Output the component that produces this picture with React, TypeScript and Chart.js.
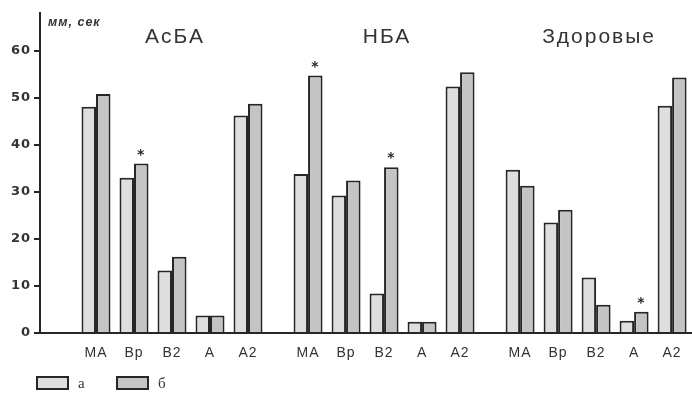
import { useEffect, useRef } from 'react';
import { Chart, registerables } from 'chart.js';

Chart.register(...registerables);

// ---- data ----
const groups = ['АсБА', 'НБА', 'Здоровые'];
const categories = ['МА', 'Вр', 'В2', 'А', 'А2'];
const seriesNames = ['а', 'б'];
const valuesA = [
  [48.1, 33.0, 13.3, 3.7, 46.2],
  [33.8, 29.2, 8.4, 2.4, 52.4],
  [34.7, 23.5, 11.8, 2.6, 48.3],
];
const valuesB = [
  [50.8, 36.0, 16.2, 3.7, 48.7],
  [54.7, 32.4, 35.2, 2.4, 55.4],
  [31.3, 26.2, 6.0, 4.5, 54.3],
];
const starsB = [
  [false, true, false, false, false],
  [true, false, true, false, false],
  [false, false, false, true, false],
];
const yTicks = [0, 10, 20, 30, 40, 50, 60];
const yUnit = 'мм, сек';

// ---- layout constants ----
const GROUP_STEP = 5.58;
const X_MIN = -1.474;
const X_MAX = 15.684;
const Y_MAX = 68;
const INK = '#262626';
const TEXT = '#333333';
const fills = ['#dedede', '#c4c4c4'];

const xPos: number[] = [];
const xLabels: string[] = [];
groups.forEach((_, g) => {
  categories.forEach((c, i) => {
    xPos.push(g * GROUP_STEP + i);
    xLabels.push(c);
  });
});

const flatA = valuesA.flat();
const flatB = valuesB.flat();
const flatStars = starsB.flat();

const decorPlugin = {
  id: 'decor',
  beforeDraw(chart: any) {
    const ctx = chart.ctx;
    ctx.save();
    ctx.fillStyle = '#ffffff';
    ctx.fillRect(0, 0, chart.width, chart.height);
    ctx.restore();
    ctx.letterSpacing = '1px';
  },
  afterDatasetsDraw(chart: any) {
    const { ctx, chartArea } = chart;
    const xs = chart.scales.x;
    ctx.save();
    // stars
    const metaB = chart.getDatasetMeta(1);
    ctx.fillStyle = INK;
    ctx.font = 'bold 14px "DejaVu Sans"';
    ctx.textAlign = 'center';
    ctx.textBaseline = 'alphabetic';
    flatStars.forEach((s, i) => {
      if (!s) return;
      const el = metaB.data[i];
      ctx.fillText('*', el.x, el.y - 5);
    });
    // group titles
    ctx.fillStyle = TEXT;
    ctx.font = '21px "Liberation Sans"';
    ctx.letterSpacing = '2px';
    groups.forEach((g, gi) => {
      const cx = xs.getPixelForValue(gi * GROUP_STEP + (categories.length - 1) / 2);
      ctx.fillText(g, cx + 3, chartArea.top + 30);
    });
    // unit label
    ctx.letterSpacing = '1px';
    ctx.textAlign = 'left';
    ctx.font = 'italic bold 12.5px "Liberation Sans"';
    ctx.fillText(yUnit, chartArea.left + 8, chartArea.top + 13);
    // legend
    const legendY = chartArea.bottom + 44;
    const boxW = 31;
    const boxH = 12;
    let lx = chartArea.left - 3;
    chart.data.datasets.forEach((ds: any) => {
      ctx.fillStyle = ds.backgroundColor;
      ctx.fillRect(lx, legendY, boxW, boxH);
      ctx.strokeStyle = INK;
      ctx.lineWidth = 2;
      ctx.strokeRect(lx, legendY, boxW, boxH);
      ctx.fillStyle = TEXT;
      ctx.font = '15px "Liberation Serif"';
      ctx.textBaseline = 'middle';
      ctx.fillText(ds.label, lx + boxW + 10, legendY + boxH / 2 + 1);
      lx += 80;
    });
    ctx.restore();
  },
};

export default function App() {
  const ref = useRef<HTMLCanvasElement | null>(null);
  useEffect(() => {
    document.body.style.margin = '0';
    if (!ref.current) return;
    const chart = new Chart(ref.current, {
      type: 'bar',
      data: {
        datasets: [
          {
            label: seriesNames[0],
            data: flatA.map((v, i) => ({ x: xPos[i], y: v })),
            backgroundColor: fills[0],
            borderColor: INK,
            borderWidth: 2,
          },
          {
            label: seriesNames[1],
            data: flatB.map((v, i) => ({ x: xPos[i], y: v })),
            backgroundColor: fills[1],
            borderColor: INK,
            borderWidth: 2,
          },
        ],
      },
      options: {
        animation: false,
        responsive: false,
        categoryPercentage: 0.763,
        barPercentage: 1,
        layout: { padding: { top: 13, right: 0, left: 0, bottom: 33 } },
        plugins: {
          legend: { display: false },
          tooltip: { enabled: false },
        },
        scales: {
          x: {
            type: 'linear',
            offset: false,
            min: X_MIN,
            max: X_MAX,
            grid: { display: false, offset: false },
            border: { display: true, color: INK, width: 2 },
            afterBuildTicks: (scale: any) => {
              scale.ticks = xPos.map((v) => ({ value: v }));
            },
            afterFit: (scale: any) => {
              scale.height = 30;
            },
            ticks: {
              autoSkip: false,
              maxRotation: 0,
              padding: 4,
              color: TEXT,
              font: { family: 'Liberation Sans', size: 14 },
              callback: (_v: any, i: number) => xLabels[i],
            },
          },
          y: {
            type: 'linear',
            min: 0,
            max: Y_MAX,
            afterFit: (scale: any) => {
              scale.width = 40;
            },
            afterBuildTicks: (scale: any) => {
              scale.ticks = yTicks.map((v) => ({ value: v }));
            },
            grid: {
              display: true,
              drawOnChartArea: false,
              drawTicks: true,
              tickLength: 6,
              color: INK,
              lineWidth: 2,
            },
            border: { display: true, color: INK, width: 2 },
            ticks: {
              padding: 3,
              color: TEXT,
              font: { family: 'DejaVu Sans', size: 13, weight: 'bold' },
            },
          },
        },
      },
      plugins: [decorPlugin],
    });
    return () => chart.destroy();
  }, []);
  return (
    <div style={{ width: 692, height: 396 }}>
      <canvas ref={ref} width={692} height={396} />
    </div>
  );
}
